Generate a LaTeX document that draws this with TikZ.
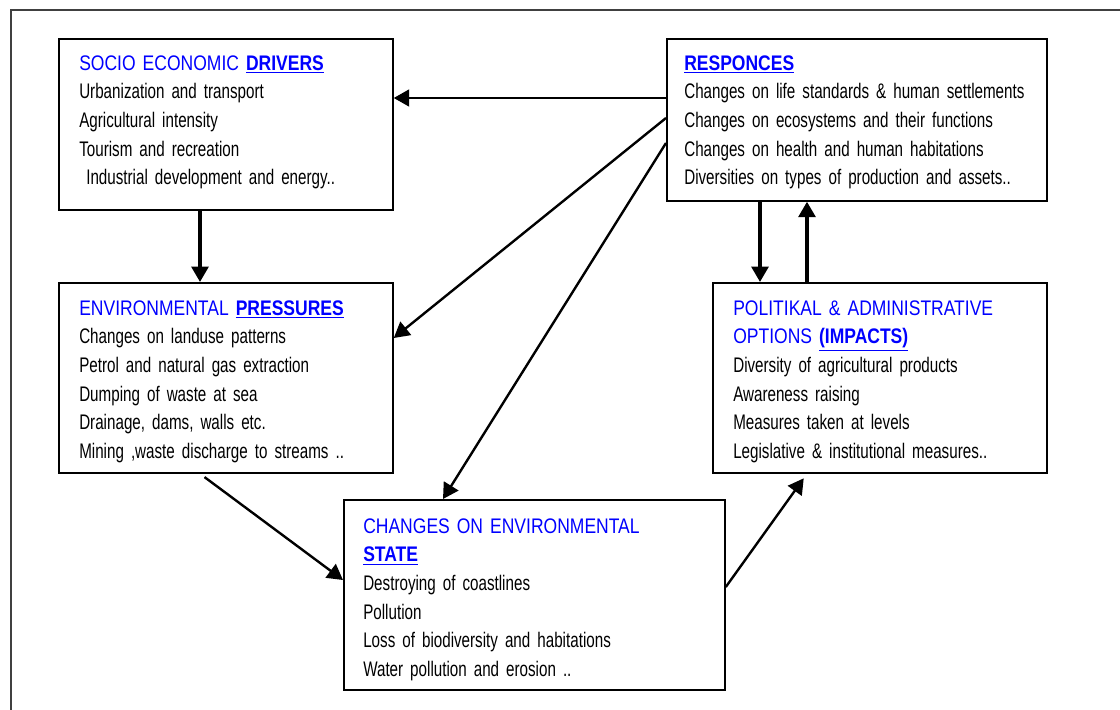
\documentclass[tikz,border=0pt]{standalone}
\usepackage{fontspec}
\setmainfont{Liberation Sans}[FakeStretch=0.72]
\newfontfamily\hdfont{Liberation Sans}[FakeStretch=0.83]
\usepackage{tikz}
\usetikzlibrary{calc}
\usetikzlibrary{arrows.meta, positioning}
\definecolor{hdblue}{RGB}{0,0,255}
\definecolor{framegray}{RGB}{64,64,64}
\tikzset{>={Triangle[length=11pt,width=12pt]}}
\tikzset{
  box/.style={draw, line width=1.2pt, inner sep=0pt, anchor=north west},
  txt/.style={anchor=base west, inner sep=0pt, text width=9cm, align=left,
              font=\fontsize{15}{20.4}\selectfont},
  link/.style={->, line width=1.7pt},
  vlink/.style={->, line width=2.5pt}
}
\newcommand{\hd}[2]{{\hdfont\color{hdblue}#1\underline{\textbf{#2}}}}

\begin{document}
\begin{tikzpicture} [x=0.025cm, y=-0.025cm]
        \useasboundingbox (0,0) rectangle (1120,710);
        \draw [framegray, line width=2pt] (11,710)--(11,10)--(1120,10);
        % boxes
        \node [box, minimum width=8.35cm, minimum height=4.275cm] (drv) at (58,38) {};
        \node [box, minimum width=9.5cm, minimum height=4.05cm] (rsp) at (666,38) {};
        \node [box, minimum width=8.35cm, minimum height=4.75cm] (prs) at (58,282) {};
        \node [box, minimum width=8.35cm, minimum height=4.75cm] (imp) at (712,282) {};
        \node [box, minimum width=9.525cm, minimum height=4.75cm] (sta) at (343,499) {};
        % texts
        \node [txt] (drvtxt) at (79,70) {\hd{SOCIO ECONOMIC }{DRIVERS}\\
          Urbanization and transport\\
          Agricultural intensity\\
          Tourism and recreation\\
          \ Industrial development and energy..};
        \node [txt] (rsptxt) at (684,70) {\hd{}{RESPONCES}\\
          Changes on life standards \& human settlements\\
          Changes on ecosystems and their functions\\
          Changes on health and human habitations\\
          Diversities on types of production and assets..};
        \node [txt] (prstxt) at (79,315) {\hd{ENVIRONMENTAL }{PRESSURES}\\
          Changes on landuse patterns\\
          Petrol and natural gas extraction\\
          Dumping of waste at sea\\
          Drainage, dams, walls etc.\\
          Mining ,waste discharge to streams ..};
        \node [txt] (imptxt) at (733,315) {\hd{POLITIKAL \& ADMINISTRATIVE}{}\\
          \hd{OPTIONS }{(IMPACTS)}\\
          Diversity of agricultural products\\
          Awareness raising\\
          Measures taken at levels\\
          Legislative \& institutional measures..};
        \node [txt] (statxt) at (363,533) {\hd{CHANGES ON ENVIRONMENTAL}{}\\
          \hd{}{STATE}\\
          Destroying of coastlines\\
          Pollution\\
          Loss of biodiversity and habitations\\
          Water pollution and erosion ..};
        % arrows
        \draw [link] (rsp.west |- 0,98) -- (drv.east |- 0,98);
        \draw [link] (rsp.west |- 0,118) -- (prs.east |- 0,338);
        \draw [link] (rsp.west |- 0,143) -- (sta.north -| 443,0);
        \draw [vlink] (drv.south -| 200,0) -- (prs.north -| 200,0);
        \draw [vlink] (rsp.south -| 760,0) -- (imp.north -| 760,0);
        \draw [vlink] (imp.north -| 807,0) -- (rsp.south -| 807,0);
        \draw [link, shorten <=4pt] (prs.south -| 200,0) -- (sta.west |- 0,580);
        \draw [link, shorten >=4pt] (sta.east |- 0,587) -- (imp.south -| 807,0);
      \end{tikzpicture}
\end{document}
